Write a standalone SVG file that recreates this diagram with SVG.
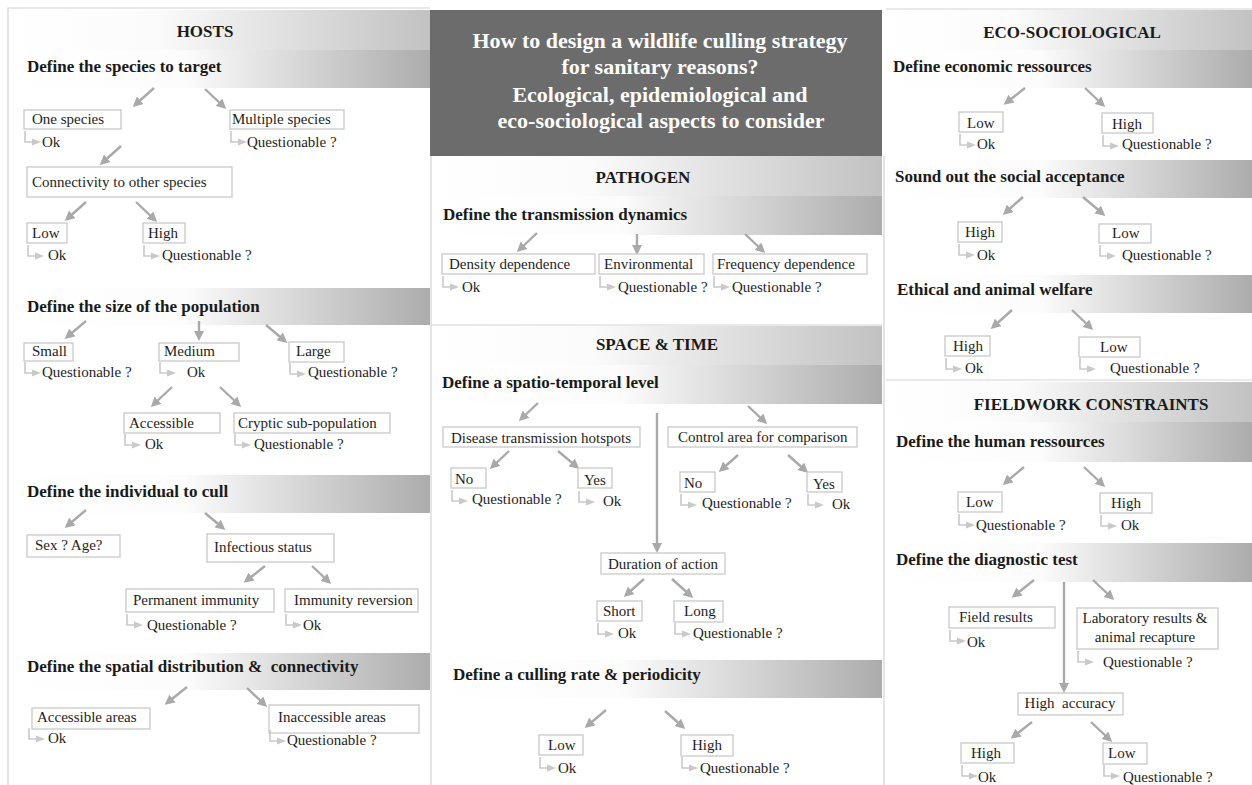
<svg xmlns="http://www.w3.org/2000/svg" xmlns:xlink="http://www.w3.org/1999/xlink" width="1252" height="785" viewBox="0 0 1252 785">
<defs>
<style>
.box{fill:#fff;stroke:#c9c9c9;stroke-width:1.3}
.t{font-family:"Liberation Serif","Times New Roman",serif;font-size:15px;fill:#1e1e1e}
.h{font-family:"Liberation Serif","Times New Roman",serif;font-size:17px;font-weight:bold;fill:#1a1a1a}
.sec{font-family:"Liberation Serif","Times New Roman",serif;font-size:17px;font-weight:bold;fill:#1a1a1a;text-anchor:middle}
.title{font-family:"Liberation Serif","Times New Roman",serif;font-size:22px;font-weight:bold;fill:#ffffff;text-anchor:middle}
.frame{fill:none;stroke:#d4d4d4;stroke-width:1.2}
#connectors line{stroke:#a9a9a9;stroke-width:2.4;marker-end:url(#ah)}
</style>
<linearGradient id="gSec" x1="0" y1="0" x2="1" y2="0">
<stop offset="0" stop-color="#ffffff"/><stop offset="0.35" stop-color="#fbfbfb"/><stop offset="1" stop-color="#c2c2c2"/>
</linearGradient>
<linearGradient id="gSub" x1="0" y1="0" x2="1" y2="0">
<stop offset="0" stop-color="#ffffff"/><stop offset="0.42" stop-color="#fcfcfc"/><stop offset="1" stop-color="#acacac"/>
</linearGradient>
<marker id="ah" viewBox="0 0 10 10" refX="7" refY="5" markerWidth="10" markerHeight="10" markerUnits="userSpaceOnUse" orient="auto">
<path d="M0,0 L10,5 L0,10 Z" fill="#a9a9a9"/>
</marker>
<g id="lar">
<path d="M0,0 V11 H9" fill="none" stroke="#c9c9c9" stroke-width="1.6"/>
<path d="M7,7.5 L16,11 L7,14.5 Z" fill="#c9c9c9"/>
</g>
</defs>

<rect width="1252" height="785" fill="#ffffff"/>

<g id="bars">
<rect x="8" y="10" width="422" height="40" fill="url(#gSec)"/>
<rect x="8" y="50" width="422" height="38" fill="url(#gSub)"/>
<rect x="8" y="288" width="422" height="37" fill="url(#gSub)"/>
<rect x="8" y="475" width="422" height="38" fill="url(#gSub)"/>
<rect x="8" y="653" width="422" height="37" fill="url(#gSub)"/>
<rect x="431" y="156" width="451" height="40" fill="url(#gSec)"/>
<rect x="431" y="196" width="451" height="39" fill="url(#gSub)"/>
<rect x="431" y="326" width="451" height="39" fill="url(#gSec)"/>
<rect x="431" y="365" width="451" height="39" fill="url(#gSub)"/>
<rect x="431" y="660" width="451" height="38" fill="url(#gSub)"/>
<rect x="886" y="10" width="366" height="40" fill="url(#gSec)"/>
<rect x="886" y="50" width="366" height="38" fill="url(#gSub)"/>
<rect x="886" y="160" width="366" height="38" fill="url(#gSub)"/>
<rect x="886" y="275" width="366" height="38" fill="url(#gSub)"/>
<rect x="886" y="382" width="366" height="40" fill="url(#gSec)"/>
<rect x="886" y="422" width="366" height="40" fill="url(#gSub)"/>
<rect x="886" y="543" width="366" height="39" fill="url(#gSub)"/>
</g>

<g id="frames">
<path class="frame" d="M8,785 V8 H430"/>
<path class="frame" d="M431,156 V785"/>
<path class="frame" d="M884,156 V785"/>
<path class="frame" d="M431,325 H882"/>
<path class="frame" d="M886,380 H1252"/>
<path class="frame" d="M886,9 H1252"/>
</g>

<g id="title">
<rect x="430" y="10" width="452" height="146" fill="#6c6c6c"/>
<text class="title" x="660" y="48">How to design a wildlife culling strategy</text>
<text class="title" x="660" y="74">for sanitary reasons?</text>
<text class="title" x="660" y="102">Ecological, epidemiological and</text>
<text class="title" x="661" y="128">eco-sociological aspects to consider</text>
</g>

<g id="headings">
<text class="sec" x="205" y="37">HOSTS</text>
<text class="h" x="27" y="72">Define the species to target</text>
<text class="h" x="27" y="312">Define the size of the population</text>
<text class="h" x="27" y="497">Define the individual to cull</text>
<text class="h" x="27" y="672" style="white-space:pre">Define the spatial distribution &amp;  connectivity</text>
<text class="sec" x="643" y="183">PATHOGEN</text>
<text class="h" x="443" y="220">Define the transmission dynamics</text>
<text class="sec" x="657" y="350">SPACE &amp; TIME</text>
<text class="h" x="442" y="388">Define a spatio-temporal level</text>
<text class="h" x="453" y="680">Define a culling rate &amp; periodicity</text>
<text class="sec" x="1072" y="38">ECO-SOCIOLOGICAL</text>
<text class="h" x="893" y="72">Define economic ressources</text>
<text class="h" x="895" y="182">Sound out the social acceptance</text>
<text class="h" x="897" y="295">Ethical and animal welfare</text>
<text class="sec" x="1091" y="410">FIELDWORK CONSTRAINTS</text>
<text class="h" x="896" y="447">Define the human ressources</text>
<text class="h" x="896" y="565">Define the diagnostic test</text>
</g>

<g id="connectors">
<line x1="154" y1="88" x2="135" y2="105"/>
<line x1="205" y1="89" x2="224" y2="107"/>
<line x1="121" y1="146" x2="102" y2="163"/>
<line x1="86" y1="202" x2="67" y2="219"/>
<line x1="136" y1="202" x2="155" y2="220"/>
<line x1="86" y1="321" x2="67" y2="337"/>
<line x1="199" y1="321" x2="199" y2="338"/>
<line x1="266" y1="325" x2="285" y2="341"/>
<line x1="172" y1="387" x2="153" y2="405"/>
<line x1="220" y1="387" x2="239" y2="405"/>
<line x1="86" y1="510" x2="67" y2="526"/>
<line x1="205" y1="513" x2="223" y2="528"/>
<line x1="265" y1="566" x2="246" y2="581"/>
<line x1="312" y1="566" x2="329" y2="582"/>
<line x1="187" y1="687" x2="167" y2="703"/>
<line x1="247" y1="688" x2="265" y2="705"/>
<line x1="537" y1="233" x2="519" y2="250"/>
<line x1="637" y1="234" x2="637" y2="252"/>
<line x1="745" y1="234" x2="763" y2="251"/>
<line x1="538" y1="403" x2="521" y2="419"/>
<line x1="748" y1="406" x2="765" y2="422"/>
<line x1="657" y1="413" x2="657" y2="550"/>
<line x1="509" y1="451" x2="492" y2="467"/>
<line x1="558" y1="451" x2="577" y2="467"/>
<line x1="738" y1="455" x2="721" y2="470"/>
<line x1="788" y1="455" x2="806" y2="471"/>
<line x1="644" y1="579" x2="626" y2="595"/>
<line x1="672" y1="579" x2="691" y2="596"/>
<line x1="606" y1="710" x2="587" y2="726"/>
<line x1="665" y1="711" x2="683" y2="727"/>
<line x1="1025" y1="88" x2="1006" y2="103"/>
<line x1="1085" y1="88" x2="1103" y2="105"/>
<line x1="1023" y1="197" x2="1005" y2="213"/>
<line x1="1083" y1="197" x2="1103" y2="214"/>
<line x1="1012" y1="310" x2="993" y2="327"/>
<line x1="1072" y1="310" x2="1091" y2="328"/>
<line x1="1024" y1="467" x2="1005" y2="483"/>
<line x1="1084" y1="467" x2="1103" y2="485"/>
<line x1="1034" y1="580" x2="1014" y2="596"/>
<line x1="1093" y1="580" x2="1112" y2="598"/>
<line x1="1064" y1="582" x2="1064" y2="690"/>
<line x1="1032" y1="722" x2="1013" y2="737"/>
<line x1="1091" y1="722" x2="1110" y2="740"/>
</g>

<!-- HOSTS -->
<g id="n-one-species"><rect class="box" x="24" y="110" width="97" height="19"/><text class="t" x="32" y="124">One species</text><use xlink:href="#lar" x="25" y="131"/><text class="t" x="42" y="147">Ok</text></g>
<g id="n-multiple-species"><rect class="box" x="230" y="110" width="114" height="19"/><text class="t" x="232" y="124">Multiple species</text><use xlink:href="#lar" x="231" y="131"/><text class="t" x="247" y="147">Questionable ?</text></g>
<g id="n-connectivity"><rect class="box" x="27" y="167" width="205" height="30"/><text class="t" x="32" y="187">Connectivity to other species</text></g>
<g id="n-conn-low"><rect class="box" x="27" y="223" width="40" height="20"/><text class="t" x="32" y="238">Low</text><use xlink:href="#lar" x="28" y="245"/><text class="t" x="48" y="260">Ok</text></g>
<g id="n-conn-high"><rect class="box" x="143" y="223" width="42" height="20"/><text class="t" x="148" y="238">High</text><use xlink:href="#lar" x="144" y="245"/><text class="t" x="162" y="260">Questionable ?</text></g>
<g id="n-small"><rect class="box" x="24" y="343" width="49" height="18"/><text class="t" x="32" y="356">Small</text><use xlink:href="#lar" x="25" y="362"/><text class="t" x="42" y="377">Questionable ?</text></g>
<g id="n-medium"><rect class="box" x="159" y="343" width="80" height="18"/><text class="t" x="164" y="356">Medium</text><use xlink:href="#lar" x="160" y="362"/><text class="t" x="187" y="377">Ok</text></g>
<g id="n-large"><rect class="box" x="289" y="342" width="55" height="20"/><text class="t" x="296" y="356">Large</text><use xlink:href="#lar" x="290" y="363"/><text class="t" x="308" y="377">Questionable ?</text></g>
<g id="n-accessible"><rect class="box" x="124" y="413" width="96" height="20"/><text class="t" x="129" y="428">Accessible</text><use xlink:href="#lar" x="125" y="434"/><text class="t" x="145" y="449">Ok</text></g>
<g id="n-cryptic"><rect class="box" x="234" y="413" width="156" height="20"/><text class="t" x="238" y="428">Cryptic sub-population</text><use xlink:href="#lar" x="235" y="434"/><text class="t" x="254" y="449">Questionable ?</text></g>
<g id="n-sex-age"><rect class="box" x="27" y="535" width="93" height="22"/><text class="t" x="35" y="550">Sex ? Age?</text></g>
<g id="n-infectious"><rect class="box" x="207" y="534" width="127" height="28"/><text class="t" x="214" y="552">Infectious status</text></g>
<g id="n-permanent"><rect class="box" x="126" y="589" width="148" height="23"/><text class="t" x="133" y="605">Permanent immunity</text><use xlink:href="#lar" x="127" y="614"/><text class="t" x="147" y="630">Questionable ?</text></g>
<g id="n-reversion"><rect class="box" x="285" y="589" width="133" height="23"/><text class="t" x="294" y="605">Immunity reversion</text><use xlink:href="#lar" x="286" y="614"/><text class="t" x="303" y="630">Ok</text></g>
<g id="n-accessible-areas"><rect class="box" x="32" y="708" width="118" height="21"/><text class="t" x="37" y="722">Accessible areas</text><use xlink:href="#lar" x="29" y="728"/><text class="t" x="48" y="743">Ok</text></g>
<g id="n-inaccessible-areas"><rect class="box" x="269" y="705" width="150" height="28"/><text class="t" x="278" y="722">Inaccessible areas</text><use xlink:href="#lar" x="270" y="730"/><text class="t" x="287" y="745">Questionable ?</text></g>

<!-- PATHOGEN -->
<g id="n-density"><rect class="box" x="442" y="254" width="153" height="20"/><text class="t" x="449" y="269">Density dependence</text><use xlink:href="#lar" x="443" y="276"/><text class="t" x="462" y="292">Ok</text></g>
<g id="n-environmental"><rect class="box" x="599" y="254" width="105" height="20"/><text class="t" x="604" y="269">Environmental</text><use xlink:href="#lar" x="600" y="276"/><text class="t" x="618" y="292">Questionable ?</text></g>
<g id="n-frequency"><rect class="box" x="713" y="254" width="154" height="20"/><text class="t" x="717" y="269">Frequency dependence</text><use xlink:href="#lar" x="714" y="276"/><text class="t" x="732" y="292">Questionable ?</text></g>

<!-- SPACE & TIME -->
<g id="n-hotspots"><rect class="box" x="443" y="427" width="197" height="20"/><text class="t" x="451" y="443">Disease transmission hotspots</text></g>
<g id="n-control"><rect class="box" x="668" y="427" width="189" height="20"/><text class="t" x="678" y="442">Control area for comparison</text></g>
<g id="n-hot-no"><rect class="box" x="451" y="468" width="35" height="20"/><text class="t" x="455" y="484">No</text><use xlink:href="#lar" x="452" y="490"/><text class="t" x="472" y="504">Questionable ?</text></g>
<g id="n-hot-yes"><rect class="box" x="578" y="468" width="34" height="20"/><text class="t" x="584" y="485">Yes</text><use xlink:href="#lar" x="579" y="491"/><text class="t" x="603" y="506">Ok</text></g>
<g id="n-ctl-no"><rect class="box" x="680" y="472" width="35" height="20"/><text class="t" x="684" y="488">No</text><use xlink:href="#lar" x="681" y="494"/><text class="t" x="702" y="508">Questionable ?</text></g>
<g id="n-ctl-yes"><rect class="box" x="807" y="472" width="35" height="20"/><text class="t" x="813" y="489">Yes</text><use xlink:href="#lar" x="808" y="494"/><text class="t" x="832" y="509">Ok</text></g>
<g id="n-duration"><rect class="box" x="601" y="553" width="124" height="21"/><text class="t" x="608" y="569">Duration of action</text></g>
<g id="n-short"><rect class="box" x="597" y="601" width="45" height="20"/><text class="t" x="603" y="616">Short</text><use xlink:href="#lar" x="598" y="623"/><text class="t" x="618" y="638">Ok</text></g>
<g id="n-long"><rect class="box" x="674" y="601" width="49" height="21"/><text class="t" x="684" y="616">Long</text><use xlink:href="#lar" x="675" y="623"/><text class="t" x="693" y="638">Questionable ?</text></g>
<g id="n-rate-low"><rect class="box" x="539" y="735" width="44" height="20"/><text class="t" x="548" y="750">Low</text><use xlink:href="#lar" x="540" y="757"/><text class="t" x="558" y="773">Ok</text></g>
<g id="n-rate-high"><rect class="box" x="681" y="735" width="52" height="21"/><text class="t" x="692" y="750">High</text><use xlink:href="#lar" x="682" y="757"/><text class="t" x="700" y="773">Questionable ?</text></g>

<!-- ECO-SOCIOLOGICAL -->
<g id="n-eco-low"><rect class="box" x="959" y="112" width="44" height="20"/><text class="t" x="967" y="128">Low</text><use xlink:href="#lar" x="960" y="134"/><text class="t" x="977" y="149">Ok</text></g>
<g id="n-eco-high"><rect class="box" x="1102" y="113" width="51" height="20"/><text class="t" x="1112" y="129">High</text><use xlink:href="#lar" x="1103" y="135"/><text class="t" x="1122" y="149">Questionable ?</text></g>
<g id="n-soc-high"><rect class="box" x="958" y="222" width="44" height="20"/><text class="t" x="965" y="237">High</text><use xlink:href="#lar" x="959" y="244"/><text class="t" x="977" y="260">Ok</text></g>
<g id="n-soc-low"><rect class="box" x="1099" y="224" width="52" height="19"/><text class="t" x="1112" y="238">Low</text><use xlink:href="#lar" x="1100" y="245"/><text class="t" x="1122" y="260">Questionable ?</text></g>
<g id="n-eth-high"><rect class="box" x="945" y="336" width="45" height="20"/><text class="t" x="953" y="351">High</text><use xlink:href="#lar" x="946" y="358"/><text class="t" x="965" y="373">Ok</text></g>
<g id="n-eth-low"><rect class="box" x="1079" y="337" width="61" height="20"/><text class="t" x="1100" y="352">Low</text><use xlink:href="#lar" x="1080" y="358"/><text class="t" x="1110" y="373">Questionable ?</text></g>

<!-- FIELDWORK -->
<g id="n-hum-low"><rect class="box" x="958" y="492" width="44" height="20"/><text class="t" x="966" y="507">Low</text><use xlink:href="#lar" x="959" y="514"/><text class="t" x="976" y="530">Questionable ?</text></g>
<g id="n-hum-high"><rect class="box" x="1100" y="493" width="52" height="20"/><text class="t" x="1111" y="508">High</text><use xlink:href="#lar" x="1101" y="515"/><text class="t" x="1121" y="530">Ok</text></g>
<g id="n-field"><rect class="box" x="949" y="607" width="106" height="21"/><text class="t" x="959" y="622">Field results</text><use xlink:href="#lar" x="950" y="630"/><text class="t" x="967" y="647">Ok</text></g>
<g id="n-lab"><rect class="box" x="1077" y="608" width="141" height="41"/><text class="t" x="1145" y="623" text-anchor="middle">Laboratory results &amp;</text><text class="t" x="1145" y="642" text-anchor="middle">animal recapture</text><use xlink:href="#lar" x="1078" y="651"/><text class="t" x="1103" y="667">Questionable ?</text></g>
<g id="n-accuracy"><rect class="box" x="1018" y="693" width="105" height="22"/><text class="t" x="1070" y="708" text-anchor="middle" style="white-space:pre">High  accuracy</text></g>
<g id="n-acc-high"><rect class="box" x="961" y="743" width="53" height="20"/><text class="t" x="971" y="758">High</text><use xlink:href="#lar" x="962" y="765"/><text class="t" x="978" y="782">Ok</text></g>
<g id="n-acc-low"><rect class="box" x="1103" y="743" width="44" height="21"/><text class="t" x="1108" y="758">Low</text><use xlink:href="#lar" x="1104" y="765"/><text class="t" x="1123" y="782">Questionable ?</text></g>
</svg>
